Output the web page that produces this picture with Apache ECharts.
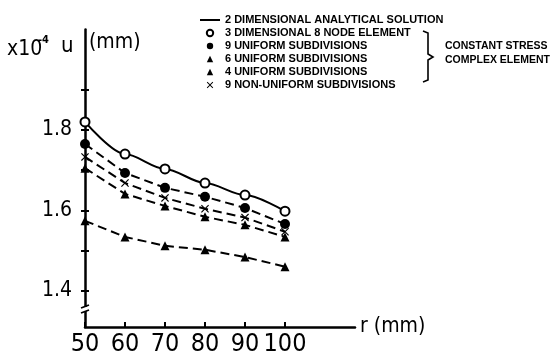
<!DOCTYPE html>
<html><head><meta charset="utf-8">
<script src="https://cdn.jsdelivr.net/npm/echarts@6/dist/echarts.min.js"></script>
<style>html,body{margin:0;padding:0;background:#fff}#c{width:556px;height:360px}</style>
</head><body><div id="c"></div>
<script>
// ---- data ----
const rValues = [50, 60, 70, 80, 90, 100];
const analytical = [1.820, 1.740, 1.703, 1.668, 1.638, 1.598];
const threeD8Node = [1.820, 1.740, 1.703, 1.668, 1.638, 1.598];
const uniform9 = [1.765, 1.693, 1.656, 1.634, 1.606, 1.566];
const uniform6 = [1.705, 1.641, 1.611, 1.584, 1.564, 1.534];
const uniform4 = [1.574, 1.534, 1.512, 1.502, 1.484, 1.460];
const nonUniform9 = [1.733, 1.668, 1.631, 1.604, 1.582, 1.547];
const xTickLabels = [50, 60, 70, 80, 90, 100];
const yTickLabels = [1.4, 1.6, 1.8];
const yTicks = [1.4, 1.5, 1.6, 1.7, 1.8, 1.9];
const seriesNames = [
  '2 DIMENSIONAL ANALYTICAL SOLUTION',
  '3 DIMENSIONAL 8 NODE ELEMENT',
  '9 UNIFORM SUBDIVISIONS',
  '6 UNIFORM SUBDIVISIONS',
  '4 UNIFORM SUBDIVISIONS',
  '9 NON-UNIFORM SUBDIVISIONS'
];
const groupLabel = ['CONSTANT STRESS', 'COMPLEX ELEMENT'];

// ---- styling ----
const NARROW = "'DejaVu Sans Condensed','Liberation Sans Narrow','Liberation Sans',sans-serif";
const LEG = "'Liberation Sans','DejaVu Sans',sans-serif";
const crossPath = 'path://M0,1 L1,0 L5,4 L9,0 L10,1 L6,5 L10,9 L9,10 L5,6 L1,10 L0,9 L4,5 Z';
const pairs = vals => rValues.map((r, i) => [r, vals[i]]);
const dashed = { type: [9, 5], width: 2, color: '#000' };

const chart = echarts.init(document.getElementById('c'), null, { renderer: 'canvas' });
const option = {
  backgroundColor: '#fff',
  animation: false,
  grid: { left: 85, right: 201, top: 29.4, bottom: 33, containLabel: false, outerBoundsMode: 'none' },
  legend: {
    orient: 'vertical', left: 194, top: 9.5, itemWidth: 20, itemHeight: 8, itemGap: 2,
    selectedMode: false,
    textStyle: { fontFamily: LEG, fontWeight: 'bold', fontSize: 11, color: '#000' },
    data: seriesNames.map((n, i) => i === 0
      ? { name: n, itemStyle: { opacity: 0 } }
      : { name: n, lineStyle: { opacity: 0 } })
  },
  xAxis: {
    type: 'value', min: 50, max: 117.5,
    name: 'r (mm)', nameLocation: 'end', nameGap: 5,
    nameTextStyle: { fontFamily: NARROW, fontSize: 21, color: '#000', verticalAlign: 'middle' },
    axisLine: { show: true, lineStyle: { color: '#000', width: 2.5 } },
    axisTick: { show: true, inside: true, length: 5, lineStyle: { color: '#000', width: 2 }, customValues: xTickLabels },
    axisLabel: { margin: 5, fontFamily: NARROW, fontSize: 25, color: '#000', customValues: xTickLabels, hideOverlap: false },
    splitLine: { show: false }
  },
  yAxis: [{
    type: 'value', min: 1.31, max: 2.05,
    axisLine: { show: true, lineStyle: { color: '#000', width: 2.5 } },
    axisTick: { show: true, length: 4, lineStyle: { color: '#000', width: 2 }, customValues: yTicks },
    axisLabel: { margin: 13, fontFamily: NARROW, fontSize: 21, color: '#000', customValues: yTickLabels,
      formatter: v => v.toFixed(1) },
    splitLine: { show: false }
  }, {
    type: 'value', min: 1.31, max: 2.05, position: 'left',
    axisLine: { show: false },
    axisTick: { show: true, inside: true, length: 4, lineStyle: { color: '#000', width: 2 }, customValues: yTicks },
    axisLabel: { show: false },
    splitLine: { show: false }
  }],
  series: [
    { name: seriesNames[0], type: 'line', data: pairs(analytical), smooth: 0.3, smoothMonotone: 'x',
      symbol: 'none', lineStyle: { color: '#000', width: 2 }, itemStyle: { color: '#000' }, z: 3 },
    { name: seriesNames[1], type: 'line', data: pairs(threeD8Node), symbol: 'emptyCircle', symbolSize: 9,
      lineStyle: { width: 0, opacity: 0 }, itemStyle: { color: '#000', borderWidth: 2 }, z: 4 },
    { name: seriesNames[2], type: 'line', data: pairs(uniform9), symbol: 'circle', symbolSize: 10,
      lineStyle: dashed, itemStyle: { color: '#000' } },
    { name: seriesNames[3], type: 'line', data: pairs(uniform6), symbol: 'triangle', symbolSize: 9,
      lineStyle: dashed, itemStyle: { color: '#000' } },
    { name: seriesNames[4], type: 'line', data: pairs(uniform4), symbol: 'triangle', symbolSize: 9,
      lineStyle: dashed, itemStyle: { color: '#000' } },
    { name: seriesNames[5], type: 'line', data: pairs(nonUniform9), symbol: crossPath, symbolSize: 8,
      lineStyle: dashed, itemStyle: { color: '#000' } }
  ],
  graphic: [
    { type: 'text', x: 7, y: 50, style: { text: 'x10', font: '21px ' + NARROW, fill: '#000', verticalAlign: 'middle' } },
    { type: 'text', x: 38, y: 40, style: { text: '-4', font: 'bold 11px ' + NARROW, fill: '#000', verticalAlign: 'middle' } },
    { type: 'text', x: 61, y: 46, style: { text: 'u', font: '22px ' + NARROW, fill: '#000', verticalAlign: 'middle' } },
    { type: 'text', x: 89, y: 43, style: { text: '(mm)', font: '21px ' + NARROW, fill: '#000', verticalAlign: 'middle' } },
    { type: 'polyline', shape: { points: [[423, 31], [428, 33], [428, 54], [433, 57], [428, 60], [428, 80], [423, 82]] },
      style: { stroke: '#000', lineWidth: 1.6, fill: null } },
    { type: 'text', x: 445, y: 46, style: { text: groupLabel[0], font: 'bold 10.5px ' + LEG, fill: '#000', verticalAlign: 'middle' } },
    { type: 'text', x: 445, y: 60, style: { text: groupLabel[1], font: 'bold 10.5px ' + LEG, fill: '#000', verticalAlign: 'middle' } },
    { type: 'rect', shape: { x: 81, y: 307, width: 8, height: 4 }, style: { fill: '#fff' }, z: 100 },
    { type: 'line', shape: { x1: 81, y1: 308, x2: 89, y2: 305 }, style: { stroke: '#000', lineWidth: 1.8 }, z: 101 },
    { type: 'line', shape: { x1: 81, y1: 313, x2: 89, y2: 310 }, style: { stroke: '#000', lineWidth: 1.8 }, z: 101 }
  ]
};
chart.setOption(option);
</script>
</body></html>
